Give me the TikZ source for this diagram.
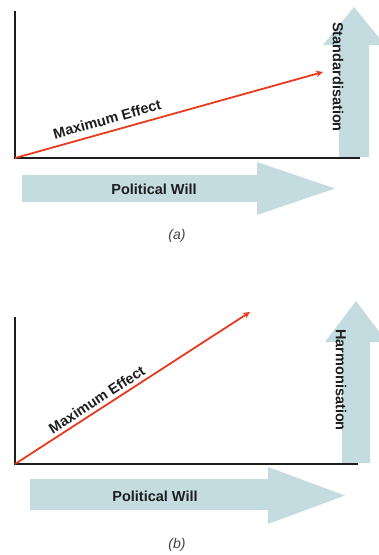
\documentclass[tikz,border=0pt]{standalone}
\usepackage{fontspec}
\setmainfont{Liberation Sans}
\usetikzlibrary{arrows.meta}
\definecolor{effect}{HTML}{E63B1F}
\definecolor{willfill}{HTML}{C4DCE0}
\definecolor{axis}{HTML}{1E1E1E}
\tikzset{
  every picture/.style={line join=miter, >=Stealth},
  axisline/.style={draw=axis, line width=2.4pt},
  effectline/.style={draw=effect, line width=1.8pt, -{Stealth[length=7pt,width=6.5pt]}},
  bigarrow/.style={fill=willfill, draw=none},
  axislabel/.style={font=\bfseries\fontsize{14.5}{16}\selectfont, text=axis},
  sublabel/.style={font=\itshape\fontsize{14}{16}\selectfont, text=axis!85},
}

\begin{document}
\begin{tikzpicture}[x=1pt,y=-1pt]
\useasboundingbox (0,0) rectangle (379,555);
% (a) standardisation
\coordinate (oa) at (15,158);
\coordinate (ya) at (15,11);
\coordinate (xa) at (360,158);
\coordinate (ea) at (323,72);
\fill[bigarrow] (22,175)--(257,175)--(257,162)--(335,188.5)--(257,215)--(257,202)--(22,202)--cycle;
\fill[bigarrow] (339,157)--(339,45)--(323,45)--(354,7)--(385,45)--(369,45)--(369,157)--cycle;
\draw[axisline] (ya)--(oa)--(xa);
\draw[effectline] (oa)--(ea) node[pos=0.31,sloped,above=3pt,axislabel] (mea) {Maximum Effect};
\node[axislabel] (pwa) at (154,189) {Political Will};
\node[axislabel,rotate=-90] (sta) at (338,77) {Standardisation};
\node[sublabel] (capa) at (177,236) {(a)};
% (b) harmonisation
\coordinate (ob) at (15,464);
\coordinate (yb) at (15,317);
\coordinate (xb) at (358,464);
\coordinate (eb) at (250,312);
\fill[bigarrow] (30,479)--(268,479)--(268,467)--(345,495.5)--(268,524)--(268,510)--(30,510)--cycle;
\fill[bigarrow] (342,463)--(342,342)--(325,342)--(356,301)--(387,342)--(370,342)--(370,463)--cycle;
\draw[axisline] (yb)--(ob)--(xb);
\draw[effectline] (ob)--(eb) node[pos=0.37,sloped,above=0pt,axislabel] (meb) {Maximum Effect};
\node[axislabel] (pwb) at (155,496) {Political Will};
\node[axislabel,rotate=-90] (hab) at (341,380) {Harmonisation};
\node[sublabel] (capb) at (177,545) {(b)};
\end{tikzpicture}
\end{document}
